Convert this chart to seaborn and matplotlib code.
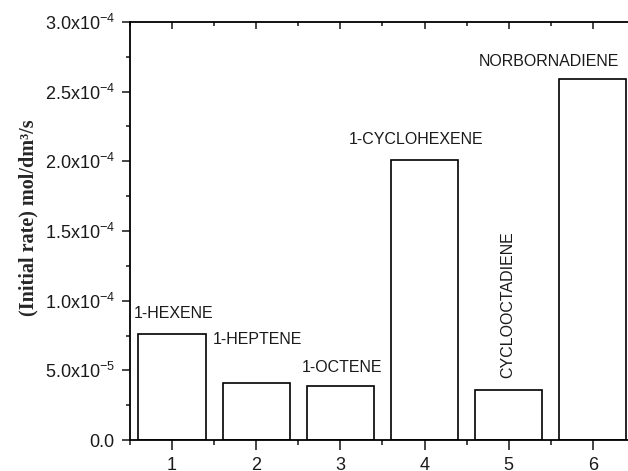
import numpy as np
import pandas as pd
import matplotlib
matplotlib.use("Agg")
import matplotlib.pyplot as plt
from matplotlib.ticker import FixedLocator, NullFormatter
import seaborn as sns

# data
runs = ["1", "2", "3", "4", "5", "6"]
rates = [7.58e-5, 4.07e-5, 3.88e-5, 2.01e-4, 3.57e-5, 2.59e-4]
substrates = ["1-HEXENE", "1-HEPTENE", "1-OCTENE", "1-CYCLOHEXENE",
              "CYCLOOCTADIENE", "NORBORNADIENE"]
ytick_vals = [0.0, 5e-5, 1e-4, 1.5e-4, 2e-4, 2.5e-4, 3e-4]
ytick_labels = ["0.0", r"5.0x10$^{-5}$", r"1.0x10$^{-4}$", r"1.5x10$^{-4}$",
                r"2.0x10$^{-4}$", r"2.5x10$^{-4}$", r"3.0x10$^{-4}$"]

# where each substrate name sits (category x, rate y, rotation)
label_pos = [(0.02, 9.1e-5, 0), (1.02, 7.2e-5, 0), (2.02, 5.17e-5, 0),
             (2.9, 2.155e-4, 0), (3.99, 9.7e-5, 90), (4.48, 2.715e-4, 0)]

sns.set_style("ticks")
plt.rcParams["font.family"] = ["Liberation Sans", "DejaVu Sans"]
plt.rcParams["mathtext.fontset"] = "custom"
plt.rcParams["mathtext.rm"] = "Liberation Sans"
plt.rcParams["mathtext.it"] = "Liberation Sans:italic"
plt.rcParams["mathtext.bf"] = "Liberation Sans:bold"

df = pd.DataFrame({"run": runs, "rate": rates})

fig = plt.figure(figsize=(6.28, 4.71), dpi=100)
ax = fig.add_axes([0.207, 0.0658, 0.804, 0.8875])

sns.barplot(data=df, x="run", y="rate", order=runs, color="white",
            saturation=1, edgecolor="black", linewidth=1.2, width=0.8, ax=ax)

ax.set_xlim(-0.5, 5.5)
ax.set_ylim(0, 3e-4)
ax.set_xlabel("")
ax.set_ylabel("")

for sp in ax.spines.values():
    sp.set_visible(True)
    sp.set_linewidth(1.3)
    sp.set_color("black")

tcol = "#1a1a1a"
ax.set_yticks(ytick_vals)
ax.set_yticklabels(ytick_labels)
ax.yaxis.set_minor_locator(FixedLocator(np.arange(2.5e-5, 3e-4, 5e-5)))
ax.xaxis.set_minor_locator(FixedLocator(np.arange(-0.5, 5.6, 1.0)))
ax.tick_params(axis="x", which="major", direction="out", length=7, width=1.2,
               labelsize=13, pad=5, labelcolor=tcol)
ax.tick_params(axis="x", which="minor", direction="out", length=3.5, width=1.2)
ax.tick_params(axis="y", which="major", direction="out", length=6, width=1.2,
               labelsize=13, pad=5, labelcolor=tcol)
ax.tick_params(axis="y", which="minor", direction="out", length=3, width=1.2)

# inward ticks on top and right
top = ax.secondary_xaxis("top")
top.set_xticks(range(len(runs)))
top.xaxis.set_minor_locator(FixedLocator(np.arange(-0.5, 5.6, 1.0)))
top.xaxis.set_major_formatter(NullFormatter())
top.tick_params(which="major", direction="in", length=5, width=1.2)
top.tick_params(which="minor", direction="in", length=3, width=1.2)
top.spines["top"].set_visible(False)

right = ax.secondary_yaxis("right")
right.set_yticks(ytick_vals)
right.yaxis.set_minor_locator(FixedLocator(np.arange(2.5e-5, 3e-4, 5e-5)))
right.yaxis.set_major_formatter(NullFormatter())
right.tick_params(which="major", direction="in", length=5, width=1.2)
right.tick_params(which="minor", direction="in", length=3, width=1.2)
right.spines["right"].set_visible(False)

for name, (x, y, rot) in zip(substrates, label_pos):
    ax.text(x, y, name, ha="center", va="center", rotation=rot,
            fontsize=11.5, color=tcol)

fig.text(28 / 628, 1 - 218 / 471, "(Initial rate) mol/dm³/s", rotation=90,
         ha="center", va="center", fontsize=14.5, fontweight="bold",
         family=["Liberation Serif", "DejaVu Serif"])

fig.savefig("out.png", dpi=100)
